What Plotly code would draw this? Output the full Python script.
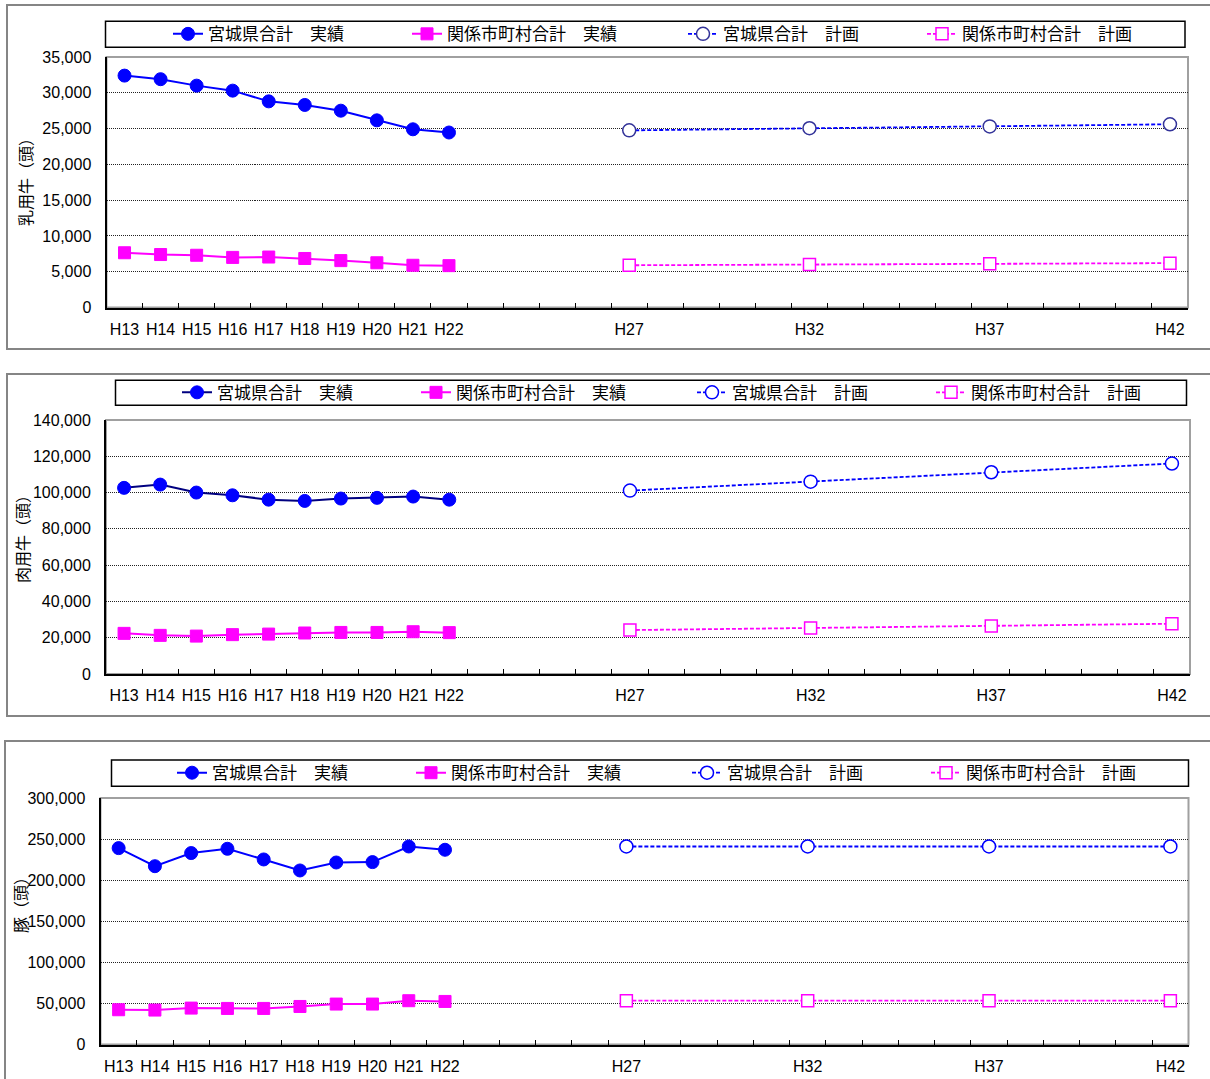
import plotly.graph_objects as go

# ---------------- data ----------------
categories = ["H13", "H14", "H15", "H16", "H17", "H18", "H19", "H20", "H21", "H22",
              "H23", "H24", "H25", "H26", "H27", "H28", "H29", "H30", "H31", "H32",
              "H33", "H34", "H35", "H36", "H37", "H38", "H39", "H40", "H41", "H42"]
tick_labels = ["H13", "H14", "H15", "H16", "H17", "H18", "H19", "H20", "H21", "H22",
               "H27", "H32", "H37", "H42"]
actual_years = ["H13", "H14", "H15", "H16", "H17", "H18", "H19", "H20", "H21", "H22"]
plan_years = ["H27", "H32", "H37", "H42"]

series_names = ["宮城県合計　実績", "関係市町村合計　実績", "宮城県合計　計画", "関係市町村合計　計画"]

dairy_pref_actual = [32400, 31900, 31000, 30300, 28800, 28300, 27500, 26150, 24900, 24450]
dairy_muni_actual = [7650, 7400, 7300, 7000, 7050, 6850, 6550, 6250, 5900, 5850]
dairy_pref_plan = [24750, 25050, 25300, 25600]
dairy_muni_plan = [5900, 6000, 6100, 6200]

beef_pref_actual = [102600, 104400, 100000, 98500, 96100, 95400, 96700, 97100, 97800, 96100]
beef_muni_actual = [22400, 21300, 20900, 21700, 22000, 22600, 22900, 22900, 23300, 22800]
beef_pref_plan = [101100, 106000, 111200, 116000]
beef_muni_plan = [24200, 25300, 26400, 27700]

pig_pref_actual = [239000, 217000, 233000, 238200, 225200, 211800, 221500, 222000, 241000, 237000]
pig_muni_actual = [42300, 41900, 44300, 43900, 43900, 46300, 49200, 49200, 53300, 52400]
pig_pref_plan = [241000, 241000, 241000, 241000]
pig_muni_plan = [53300, 53300, 53300, 53300]

y_titles = ["乳用牛（頭）", "肉用牛（頭）", "豚（頭）"]
y_max = [35000, 140000, 300000]
y_step = [5000, 20000, 50000]

# ---------------- layout helpers ----------------
W, H = 1210, 1079
BLUE = "#0000FF"
NAVY = "#000080"
MAGENTA = "#FF00FF"
CJK = "Noto Sans CJK JP, Noto Sans CJK SC, sans-serif"
NUM = "Liberation Sans, Arial, sans-serif"

panels = [
    dict(data=(dairy_pref_actual, dairy_muni_actual, dairy_pref_plan, dairy_muni_plan),
         xdom=(106.5, 1188), ydom=(57, 307.5), outer=(7, 5, 349),
         legbox=(105.5, 21.3, 1185, 47.3), leg_text_x=209,
         ytitle_xy=(25, 178), pref_line=BLUE, plan_mline="#333399"),
    dict(data=(beef_pref_actual, beef_muni_actual, beef_pref_plan, beef_muni_plan),
         xdom=(106, 1190), ydom=(420, 674), outer=(7, 374, 716),
         legbox=(115.5, 380.3, 1186.5, 405.3), leg_text_x=218,
         ytitle_xy=(22, 535), pref_line=NAVY, plan_mline=BLUE),
    dict(data=(pig_pref_actual, pig_muni_actual, pig_pref_plan, pig_muni_plan),
         xdom=(100.5, 1188.5), ydom=(798, 1044.5), outer=(5, 741, 1100),
         legbox=(111.5, 760, 1188.5, 786.3), leg_text_x=213,
         ytitle_xy=(20, 901), pref_line=BLUE, plan_mline=BLUE),
]
legend_widths = [194, 231, 194, 200]

fig = go.Figure()
layout = dict(width=W, height=H, margin=dict(l=0, r=0, t=0, b=0, autoexpand=False),
              paper_bgcolor="white", plot_bgcolor="white", showlegend=True)
shapes = []
annotations = []

for i, p in enumerate(panels):
    sfx = "" if i == 0 else str(i + 1)
    xa, ya = "x" + sfx, "y" + sfx
    leg = "legend" + sfx
    pa, ma, pp, mp = p["data"]
    common = dict(xaxis=xa, yaxis=ya, legend=leg, mode="lines+markers", hoverinfo="x+y")
    fig.add_trace(go.Scatter(x=actual_years, y=pa, name=series_names[0],
                             line=dict(color=p["pref_line"], width=2),
                             marker=dict(symbol="circle", size=13, color=BLUE,
                                         line=dict(color=BLUE, width=1)),
                             legendwidth=legend_widths[0], **common))
    fig.add_trace(go.Scatter(x=actual_years, y=ma, name=series_names[1],
                             line=dict(color=MAGENTA, width=2),
                             marker=dict(symbol="square", size=12, color=MAGENTA,
                                         line=dict(color=MAGENTA, width=1)),
                             legendwidth=legend_widths[1], **common))
    fig.add_trace(go.Scatter(x=plan_years, y=pp, name=series_names[2],
                             line=dict(color=BLUE, width=1.8, dash="4px,2px"),
                             marker=dict(symbol="circle", size=13, color="white",
                                         line=dict(color=p["plan_mline"], width=1.5)),
                             legendwidth=legend_widths[2], **common))
    fig.add_trace(go.Scatter(x=plan_years, y=mp, name=series_names[3],
                             line=dict(color=MAGENTA, width=1.8, dash="4px,2px"),
                             marker=dict(symbol="square", size=12, color="white",
                                         line=dict(color=MAGENTA, width=1.5)),
                             legendwidth=legend_widths[3], **common))

    x0, x1 = p["xdom"]
    y0, y1 = p["ydom"]
    layout["xaxis" + sfx] = dict(
        domain=[x0 / W, x1 / W], anchor=ya, type="category",
        categoryorder="array", categoryarray=categories,
        range=[-0.5, len(categories) - 0.5],
        tickmode="array", tickvals=categories,
        ticktext=[c if c in tick_labels else "" for c in categories],
        tickson="boundaries", ticks="inside", ticklen=5, tickwidth=1, tickcolor="black",
        tickangle=0, automargin=False,
        showgrid=False, showline=True, linecolor="black", linewidth=2,
        tickfont=dict(family=NUM, size=16, color="black"),
        ticklabelstandoff=6, zeroline=False, fixedrange=True)
    layout["yaxis" + sfx] = dict(
        domain=[1 - y1 / H, 1 - y0 / H], anchor=xa, automargin=False,
        range=[0, y_max[i]], tick0=0, dtick=y_step[i], tickformat=",d",
        ticks="", showgrid=True, gridcolor="#222", gridwidth=1, griddash="1px,1px",
        showline=True, linecolor="black", linewidth=2, zeroline=False,
        tickfont=dict(family=NUM, size=16, color="black"),
        ticklabelstandoff=10, fixedrange=True)

    lx0, ly0, lx1, ly1 = p["legbox"]
    layout[leg] = dict(orientation="h", x=(p["leg_text_x"] - 41) / W, xanchor="left",
                       y=1 - (ly0 + ly1) / 2 / H, yanchor="middle",
                       bgcolor="rgba(0,0,0,0)", borderwidth=0,
                       font=dict(family=CJK, size=17, color="black"),
                       traceorder="normal", itemclick=False, itemdoubleclick=False)

    # plot-area frame (top/right gray edges)
    shapes.append(dict(type="rect", xref=xa + " domain", yref=ya + " domain",
                       x0=0, x1=1, y0=0, y1=1, layer="below",
                       line=dict(color="#a0a0a0", width=2)))
    # legend frame
    shapes.append(dict(type="rect", xref="paper", yref="paper",
                       x0=lx0 / W, x1=lx1 / W, y0=1 - ly1 / H, y1=1 - ly0 / H,
                       line=dict(color="black", width=1.5), layer="above"))
    # chart-area frame
    ox, oy0, oy1 = p["outer"]
    shapes.append(dict(type="rect", xref="paper", yref="paper",
                       x0=ox / W, x1=1.02, y0=1 - oy1 / H, y1=1 - oy0 / H,
                       line=dict(color="#858585", width=2), layer="below"))
    tx, ty = p["ytitle_xy"]
    annotations.append(dict(text=y_titles[i], xref="paper", yref="paper",
                            x=tx / W, y=1 - ty / H, xanchor="center", yanchor="middle",
                            textangle=-90, showarrow=False,
                            font=dict(family=CJK, size=16, color="black")))

layout["shapes"] = shapes
layout["annotations"] = annotations
fig.update_layout(**layout)
fig.write_html("out.html", config={"displayModeBar": False},
               post_script="document.body.style.margin='0px';document.body.style.padding='0px';")
